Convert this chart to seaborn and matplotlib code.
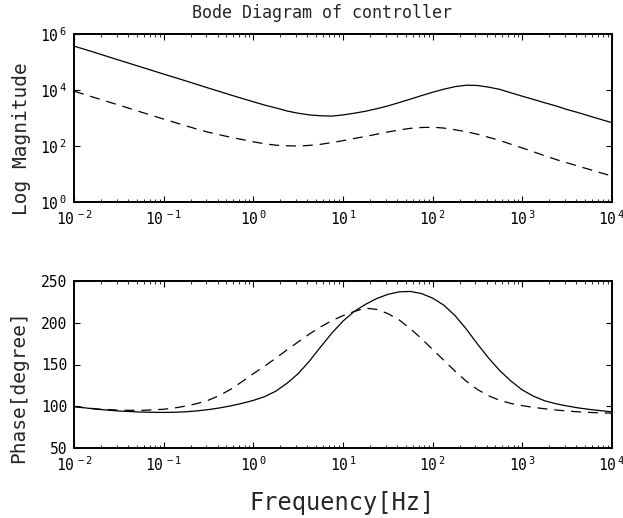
import numpy as np
import pandas as pd
import matplotlib
matplotlib.use("Agg")
import matplotlib.pyplot as plt
import seaborn as sns
from matplotlib.ticker import FixedLocator, LogLocator, NullLocator, NullFormatter, FuncFormatter

# ---------------- data ----------------
freq = [0.01, 0.01778, 0.03162, 0.05623,
        0.1, 0.1334, 0.1778, 0.2371, 0.3162, 0.4217, 0.5623, 0.7499,
        1.0, 1.334, 1.778, 2.371, 3.162, 4.217, 5.623, 7.499,
        10.0, 13.34, 17.78, 23.71, 31.62, 42.17, 56.23, 74.99,
        100.0, 133.4, 177.8, 237.1, 316.2, 421.7, 562.3, 749.9,
        1000.0, 1334.0, 1778.0, 2371.0, 3162.0, 4217.0, 5623.0, 7499.0,
        10000.0]

mag_solid = [3.7e5, 2.1e5, 1.17e5, 6.6e4,
             3.7e4, 2.79e4, 2.1e4, 1.57e4, 1.17e4, 8.8e3, 6.6e3, 5.0e3,
             3.8e3, 2.9e3, 2.3e3, 1.78e3, 1.48e3, 1.29e3, 1.2e3, 1.17e3,
             1.29e3, 1.48e3, 1.74e3, 2.14e3, 2.7e3, 3.55e3, 4.7e3, 6.3e3,
             8.3e3, 1.07e4, 1.32e4, 1.48e4, 1.45e4, 1.26e4, 1.05e4, 7.9e3,
             6.0e3, 4.6e3, 3.5e3, 2.7e3, 2.0e3, 1.55e3, 1.17e3, 890,
             680]

mag_dashed = [9.1e3, 5.1e3, 2.9e3, 1.62e3,
              912, 692, 525, 398, 309, 251, 204, 170,
              141, 120, 107, 102, 100, 105, 115, 132,
              155, 186, 219, 263, 316, 372, 427, 457,
              468, 437, 380, 324, 263, 204, 158, 115,
              85, 62, 45, 33, 25, 19, 14.5, 11,
              8.5]

phase_solid = [99.6, 96.5, 94.3, 93.0,
               92.6, 92.8, 93.4, 94.5, 96.0, 98.0, 100.5, 103.5,
               107.0, 111.5, 118.0, 127.5, 139.0, 154.0, 171.0, 187.5,
               202.0, 213.5, 222.0, 229.0, 234.0, 237.0, 237.5, 235.0,
               229.5, 221.0, 208.5, 192.5, 174.5, 157.5, 142.5, 130.0,
               119.5, 112.0, 106.5, 103.0, 100.3, 98.0, 96.2, 94.7,
               93.3]

phase_dashed = [99.6, 96.8, 95.3, 95.0,
                96.4, 98.0, 100.3, 103.3, 107.3, 113.0, 120.5, 129.5,
                139.0, 148.0, 157.5, 167.5, 177.0, 186.5, 195.0, 202.5,
                208.5, 213.5, 217.5, 216.0, 211.0, 203.5, 193.0, 181.0,
                168.0, 155.0, 142.0, 130.0, 120.0, 112.5, 107.0, 103.3,
                100.7, 98.6, 97.0, 95.5, 94.3, 93.3, 92.6, 92.1,
                91.7]

xticks = [1e-2, 1e-1, 1e0, 1e1, 1e2, 1e3, 1e4]
mag_ticks = [1e0, 1e2, 1e4, 1e6]
phase_ticks = [50, 100, 150, 200, 250]

title = "Bode Diagram of controller"
ylabel_top = "Log Magnitude"
ylabel_bottom = "Phase[degree]"
xlabel = "Frequency[Hz]"

# ---------------- style ----------------
sns.set_style("ticks")
plt.rcParams["font.family"] = ["DejaVu Sans Mono", "DejaVu Sans"]
plt.rcParams["mathtext.default"] = "regular"
plt.rcParams["xtick.direction"] = "in"
plt.rcParams["ytick.direction"] = "in"
plt.rcParams["xtick.top"] = True
plt.rcParams["ytick.right"] = True

W, H = 623, 518
fig = plt.figure(figsize=(W / 100, H / 100), dpi=100)
fig.patch.set_facecolor("white")
ax1 = fig.add_axes([74 / W, 1 - 202 / H, (612 - 74) / W, (202 - 34) / H])
ax2 = fig.add_axes([74 / W, 1 - 448 / H, (612 - 74) / W, (448 - 281) / H])

df = pd.DataFrame({"freq": freq, "mag_solid": mag_solid, "mag_dashed": mag_dashed,
                   "phase_solid": phase_solid, "phase_dashed": phase_dashed})

lw = 0.9
dash = (0, (8, 5.5))
sns.lineplot(data=df, x="freq", y="mag_solid", ax=ax1, color="black", lw=lw,
             estimator=None, sort=False)
sns.lineplot(data=df, x="freq", y="mag_dashed", ax=ax1, color="black", lw=lw,
             linestyle=dash, estimator=None, sort=False)
sns.lineplot(data=df, x="freq", y="phase_solid", ax=ax2, color="black", lw=lw,
             estimator=None, sort=False)
sns.lineplot(data=df, x="freq", y="phase_dashed", ax=ax2, color="black", lw=lw,
             linestyle=dash, estimator=None, sort=False)


def pow10(v, pos=None):
    e = int(round(np.log10(v)))
    return r"$\mathregular{10^{\,%d}}$" % e


for ax in (ax1, ax2):
    ax.set_xscale("log")
    ax.set_xlim(1e-2, 1e4)
    ax.xaxis.set_major_locator(FixedLocator(xticks))
    ax.xaxis.set_minor_locator(LogLocator(base=10, subs=np.arange(2, 10)))
    ax.xaxis.set_minor_formatter(NullFormatter())
    ax.xaxis.set_major_formatter(FuncFormatter(pow10))
    ax.set_xlabel("")
    ax.set_ylabel("")
    for s in ax.spines.values():
        s.set_linewidth(1.4)
        s.set_color("black")
    ax.tick_params(which="major", length=4, width=0.8, labelsize=10.5, pad=5,
                   colors="black")
    ax.tick_params(which="minor", length=2.2, width=0.7)
    ax.set_facecolor("white")

ax1.set_yscale("log")
ax1.set_ylim(1, 1e6)
ax1.yaxis.set_major_locator(FixedLocator(mag_ticks))
ax1.yaxis.set_minor_locator(NullLocator())
ax1.yaxis.set_major_formatter(FuncFormatter(pow10))

ax2.set_ylim(50, 250)
ax2.yaxis.set_major_locator(FixedLocator(phase_ticks))
ax2.yaxis.set_minor_locator(NullLocator())

fig.text(322 / W, 1 - 13 / H, title, ha="center", va="center", fontsize=12)
fig.text(22 / W, 1 - 139 / H, ylabel_top, rotation=90, ha="center", va="center", fontsize=14)
fig.text(19 / W, 1 - 387 / H, ylabel_bottom, rotation=90, ha="center", va="center", fontsize=14)
fig.text(342 / W, 1 - 503 / H, xlabel, ha="center", va="center", fontsize=17)

fig.savefig("out.png", dpi=100, facecolor="white")
